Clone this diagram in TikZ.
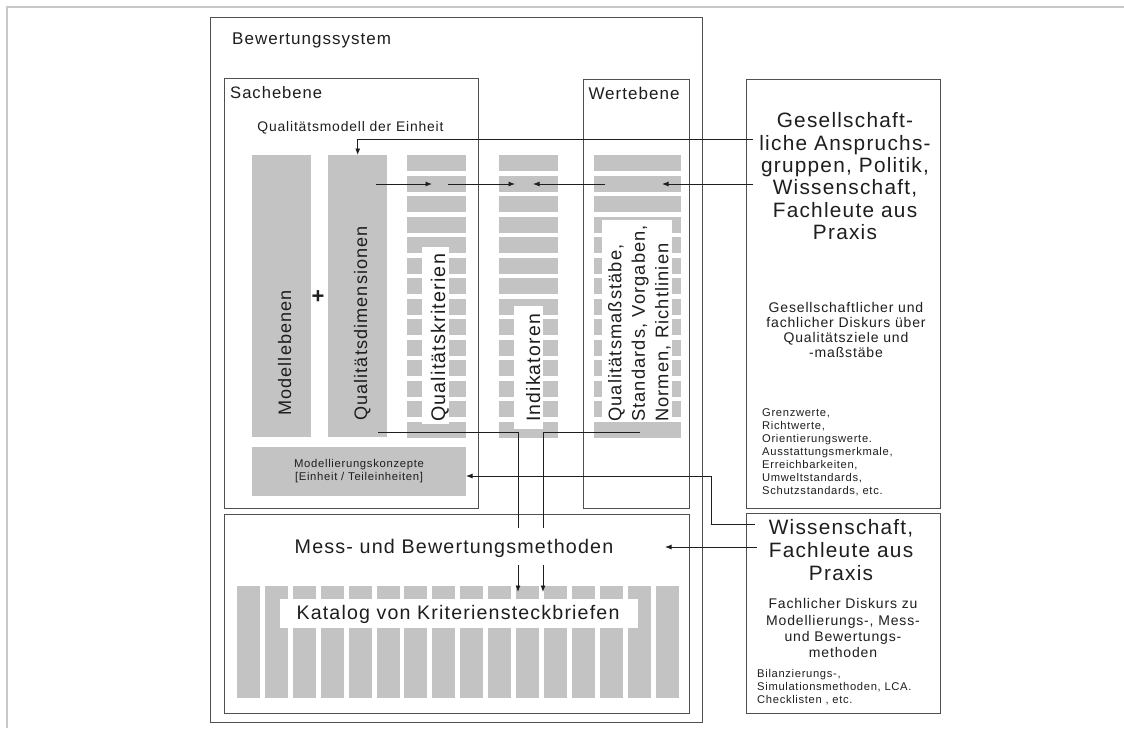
\documentclass[tikz,border=0pt]{standalone}
\usepackage{fontspec}
\setmainfont{Liberation Sans}[LetterSpace=6]
\usetikzlibrary{arrows.meta}
\definecolor{barfill}{RGB}{195,195,195}
\definecolor{boxline}{RGB}{80,80,80}
\definecolor{ink}{RGB}{30,30,30}
\definecolor{framegray}{RGB}{200,200,200}
\newcommand\fsz[2]{\fontsize{#1}{#2}\selectfont}

\begin{document}
\begin{tikzpicture}[x=1pt,y=-1pt,
  box/.style={draw=boxline, line width=1.1pt, inner sep=0pt, anchor=north west},
  bar/.style={fill=barfill, draw=none, inner sep=0pt, anchor=north west},
  txt/.style={text=ink, inner sep=0pt},
  rtxt/.style={txt, rotate=90, anchor=base west},
  conn/.style={draw=ink, line width=0.9pt},
  arr/.style={conn, -{Latex[length=6.5pt,width=5pt]}},
]
\useasboundingbox (0,0) rectangle (1124,728);
\fill[white] (0,0) rectangle (1124,728);
% light outer frame
\draw[framegray, line width=2pt] (6.5,728) -- (6.5,6.5) -- (1124,6.5);

% frames
\node[box, minimum width=492pt, minimum height=705pt] (bws) at (210,17) {};
\node[box, minimum width=254pt, minimum height=430pt] (sach) at (224,78) {};
\node[box, minimum width=106pt, minimum height=429pt] (wert) at (583,79) {};
\node[box, minimum width=194pt, minimum height=429pt] (gesell) at (746,79) {};
\node[box, minimum width=194pt, minimum height=200pt] (wiss) at (746,513) {};
\node[box, minimum width=465pt, minimum height=199pt] (mess) at (224,514) {};

% solid bars
\node[bar, minimum width=59pt, minimum height=282pt] (modell) at (252,155) {};
\node[bar, minimum width=59pt, minimum height=282pt] (qdim) at (328,155) {};
\node[bar, minimum width=214pt, minimum height=49pt] (mk) at (252,447) {};

% striped columns
\foreach \i in {0,...,13} {
  \fill[barfill] (407,155+20.5*\i) rectangle ++(59,16);
  \fill[barfill] (499,155+20.5*\i) rectangle ++(59,16);
  \fill[barfill] (594,155+20.5*\i) rectangle ++(87,16);
}
\foreach \i in {0,...,15} {
  \fill[barfill] (237+27.9*\i,586) rectangle ++(23,112);
}

% white label fields
\fill[white] (422,247) rectangle (449,424);
\fill[white] (514,306) rectangle (543,429);
\fill[white] (602,220) rectangle (672,421);
\fill[white] (280,599) rectangle (638,628);

% headings
\node[txt, anchor=base west, font=\fsz{17}{20}] (t-bws) at (232,44.5) {Bewertungssystem};
\node[txt, anchor=base west, font=\fsz{16.6}{20}] (t-sach) at (230,98.5) {Sachebene};
\node[txt, anchor=base, font=\fsz{17}{20}] (t-wert) at (634,99) {Wertebene};
\node[txt, anchor=base, font=\fsz{13.9}{16}] (t-qm) at (350.5,131) {Qualitätsmodell der Einheit};

% vertical labels
\node[rtxt, font=\fsz{18.1}{20}] (t-mod) at (291,416) {Modellebenen};
\node[rtxt, font=\fsz{18.1}{20}] (t-qdim) at (367,421) {Qualitätsdimensionen};
\node[rtxt, font=\fsz{19.7}{22}] (t-krit) at (445,422) {Qualitätskriterien};
\node[rtxt, font=\fsz{19.4}{22}] (t-ind) at (540,422) {Indikatoren};
\node[txt, rotate=90, anchor=north west, align=left, font=\fsz{18.3}{23.5}] (t-mass) at (608,422)
  {Qualitätsmaßstäbe,\\Standards, Vorgaben,\\Normen, Richtlinien};
\node[txt, font=\fsz{22}{24}\bfseries] (plus) at (318,297) {+};

\node[txt, align=center, font=\fsz{11.3}{13}] (t-mk) at (359,471.5)
  {Modellierungskonzepte\\{[}Einheit / Teileinheiten{]}};

% lower frame
\node[txt, anchor=base, font=\fsz{19.7}{22}] (t-mess) at (454,553) {Mess- und Bewertungsmethoden};
\node[txt, anchor=base, font=\fsz{19.6}{22}] (t-kat) at (458,619.5) {Katalog von Kriteriensteckbriefen};

% right column, upper frame
\node[txt, anchor=north, align=center, font=\fsz{20.8}{22.4}] (t-gesell) at (845,112.5)
  {Gesellschaft-\\liche Anspruchs-\\gruppen, Politik,\\Wissenschaft,\\Fachleute aus\\Praxis};
\node[txt, anchor=north, align=center, font=\fsz{14}{15}] (t-disk1) at (846,302.5)
  {Gesellschaftlicher und\\fachlicher Diskurs über\\Qualitätsziele und\\-maßstäbe};
\node[txt, anchor=north west, align=left, font=\fsz{11.2}{13}] (t-list1) at (762,408.7)
  {Grenzwerte,\\Richtwerte,\\Orientierungswerte.\\Ausstattungsmerkmale,\\Erreichbarkeiten,\\Umweltstandards,\\Schutzstandards, etc.};

% right column, lower frame
\node[txt, anchor=north, align=center, font=\fsz{20.8}{23}] (t-wiss) at (841,519.5)
  {Wissenschaft,\\Fachleute aus\\Praxis};
\node[txt, anchor=north, align=center, font=\fsz{14}{16.3}] (t-disk2) at (843,598.5)
  {Fachlicher Diskurs zu\\Modellierungs-, Mess-\\und Bewertungs-\\methoden};
\node[txt, anchor=north west, align=left, font=\fsz{11.2}{13}] (t-list2) at (757,668.7)
  {Bilanzierungs-,\\Simulationsmethoden, LCA.\\Checklisten , etc.};

% connector end points
\coordinate (g-a) at (753,139);
\coordinate (g-b) at (753,184);
\coordinate (w-tip) at (662,184);
\coordinate (w-a) at (605,184);
\coordinate (i-tip2) at (533,184);
\coordinate (k-a) at (448,184);
\coordinate (i-tip1) at (515,184);
\coordinate (d-a) at (376,184);
\coordinate (k-tip) at (432,184);
\coordinate (d-b) at (378,432);
\coordinate (m-in1) at (518,528);
\coordinate (w-b) at (640,432);
\coordinate (m-in2) at (543,528);
\coordinate (m-out1) at (518,565);
\coordinate (c-tip1) at (518,592);
\coordinate (m-out2) at (543,565);
\coordinate (c-tip2) at (543,592);
\coordinate (s-a) at (755,524);
\coordinate (s-bend) at (711,476);
\coordinate (mk-tip) at (466,476);
\coordinate (s-b) at (757,547);
\coordinate (mess-tip) at (665,547);

% connectors
\draw[arr] (g-a) -| (qdim.north);
\draw[arr] (g-b) -- (w-tip);
\draw[arr] (w-a) -- (i-tip2);
\draw[arr] (k-a) -- (i-tip1);
\draw[arr] (d-a) -- (k-tip);
\draw[conn] (d-b) -| (m-in1);
\draw[conn] (w-b) -| (m-in2);
\draw[arr] (m-out1) -- (c-tip1);
\draw[arr] (m-out2) -- (c-tip2);
\draw[arr] (s-a) -| (s-bend) -- (mk-tip);
\draw[arr] (s-b) -- (mess-tip);
\end{tikzpicture}
\end{document}
